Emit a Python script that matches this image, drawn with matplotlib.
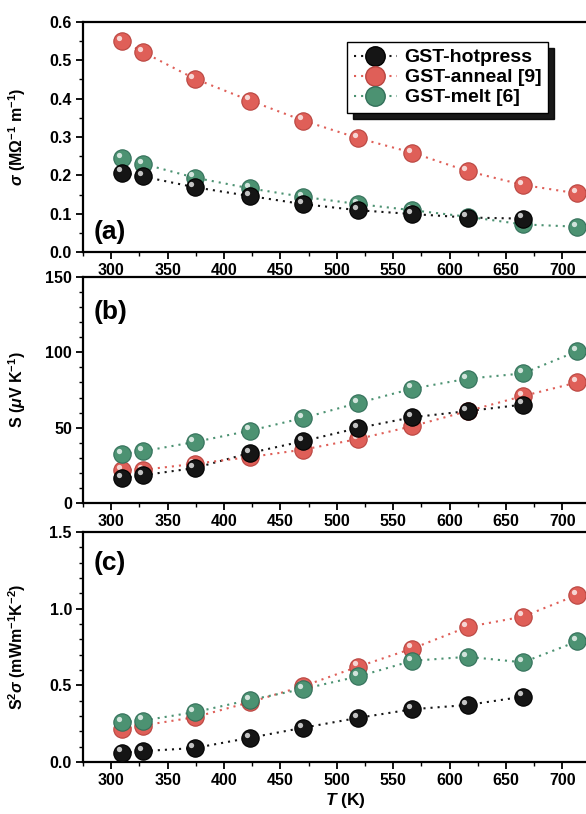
import matplotlib
matplotlib.use("Agg")
import matplotlib.pyplot as plt
from matplotlib.ticker import MultipleLocator
from matplotlib.lines import Line2D
import matplotlib.transforms as mtransforms

plt.rcParams['font.family'] = ['Liberation Sans', 'DejaVu Sans']
plt.rcParams['font.weight'] = 'bold'
plt.rcParams['mathtext.fontset'] = 'custom'
plt.rcParams['mathtext.rm'] = 'Liberation Sans:bold'
plt.rcParams['mathtext.it'] = 'Liberation Sans:italic:bold'
plt.rcParams['mathtext.bf'] = 'Liberation Sans:bold'

# ---- data ----
T_all = [310, 328, 374, 423, 470, 519, 567, 616, 665, 713]
T_hot = [310, 328, 374, 423, 470, 519, 567, 616, 665]

sigma_hot = [0.207, 0.197, 0.169, 0.146, 0.125, 0.109, 0.099, 0.090, 0.087]
sigma_anneal = [0.550, 0.522, 0.452, 0.395, 0.343, 0.297, 0.259, 0.211, 0.175, 0.153]
sigma_melt = [0.244, 0.230, 0.194, 0.166, 0.144, 0.125, 0.109, 0.092, 0.072, 0.066]

S_hot = [16.6, 18.4, 23.2, 33.2, 41.0, 49.8, 56.9, 61.0, 65.3]
S_anneal = [22.0, 22.0, 26.0, 30.5, 35.4, 42.5, 51.0, 61.0, 71.0, 80.0]
S_melt = [32.7, 34.3, 40.5, 48.0, 56.4, 66.4, 75.9, 82.5, 86.0, 100.7]

PF_hot = [0.061, 0.071, 0.091, 0.158, 0.223, 0.288, 0.344, 0.372, 0.426]
PF_anneal = [0.216, 0.238, 0.292, 0.390, 0.494, 0.622, 0.740, 0.881, 0.948, 1.089]
PF_melt = [0.260, 0.270, 0.325, 0.405, 0.476, 0.558, 0.660, 0.686, 0.650, 0.786]

labels = ["GST-hotpress", "GST-anneal [9]", "GST-melt [6]"]
colors = ["#151515", "#df5f58", "#4c9272"]
edge = ["#000000", "#b94540", "#33705a"]
dotted = (0, (1, 2.4))

fig = plt.figure(figsize=(5.86, 8.14), dpi=100)
W, H = 586.0, 814.0
left_px = 83
px_per_K = 56.4 / 50.0
xlim = (275, 740)
width = (xlim[1] - xlim[0]) * px_per_K / W

panels = [
    (22, 252, (0, 0.6), 0.1, 0.05, r'$\sigma$ (M$\Omega^{-1}$ m$^{-1}$)', '(a)', 0.087,
     [sigma_hot, sigma_anneal, sigma_melt], lambda v: f"{v:.1f}"),
    (277, 503, (0, 150), 50, 10, r'S ($\mu$V K$^{-1}$)', '(b)', 0.845,
     [S_hot, S_anneal, S_melt], lambda v: f"{v:.0f}"),
    (532, 762, (0, 1.5), 0.5, 0.1, r'S$^2$$\sigma$ (mWm$^{-1}$K$^{-2}$)', '(c)', 0.865,
     [PF_hot, PF_anneal, PF_melt], lambda v: f"{v:.1f}"),
]

axes = []
for top, bot, ylim, maj, mnr, ylab, plab, py, series, fmt in panels:
    ax = fig.add_axes([left_px / W, 1 - bot / H, width, (bot - top) / H])
    axes.append(ax)
    ax.set_xlim(*xlim)
    ax.set_ylim(*ylim)
    for s in ax.spines.values():
        s.set_linewidth(1.6)
    ax.xaxis.set_major_locator(MultipleLocator(50))
    ax.xaxis.set_minor_locator(MultipleLocator(25))
    ax.yaxis.set_major_locator(MultipleLocator(maj))
    ax.yaxis.set_minor_locator(MultipleLocator(mnr))
    ax.tick_params(which='major', direction='out', length=5, width=1.3, labelsize=11.5, pad=3)
    ax.tick_params(which='minor', direction='out', length=3, width=1.0)
    ax.set_yticks(ax.get_yticks())
    ax.set_yticklabels([fmt(v) for v in ax.get_yticks()], fontweight='bold')
    ax.set_ylim(*ylim)
    for lab in ax.get_xticklabels():
        lab.set_fontweight('bold')
    ax.set_ylabel(ylab, fontsize=11.5, fontweight='bold')
    ax.yaxis.set_label_coords(-0.105, 0.5)
    ax.text(0.02, py, plab, transform=ax.transAxes, fontsize=19, fontweight='bold',
            va='center', ha='left')

    xs_list = [T_hot, T_all, T_all]
    hl = mtransforms.offset_copy(ax.transData, fig=fig, x=-2.3, y=2.3, units='points')
    for i, (xs, ys) in enumerate(zip(xs_list, series)):
        ax.plot(xs, ys, linestyle=dotted, color=colors[i], lw=1.5, zorder=2)
    order = [1, 2, 0]
    for i in order:
        xs, ys = xs_list[i], series[i]
        ax.plot(xs, ys, linestyle='none', marker='o', markersize=12.5,
                markerfacecolor=colors[i], markeredgecolor=edge[i], markeredgewidth=0.8,
                zorder=3 + order.index(i), clip_on=False)
        ax.plot(xs, ys, linestyle='none', marker='o', markersize=3.8,
                markerfacecolor='white', markeredgecolor='none', alpha=0.75,
                transform=hl, zorder=3.5 + order.index(i), clip_on=False)

axes[2].set_xlabel(r'$T$ (K)', fontsize=12.5, fontweight='bold', labelpad=2)

handles = [Line2D([0], [0], linestyle=dotted, color=colors[i], lw=1.5, marker='o',
                  markersize=14, markerfacecolor=colors[i], markeredgecolor=edge[i])
           for i in range(3)]
leg = axes[0].legend(handles, labels, loc='upper right', bbox_to_anchor=(0.905, 0.955),
                     prop={'family': 'Liberation Sans', 'weight': 'bold', 'size': 14},
                     frameon=True, fancybox=False, edgecolor='black', framealpha=1,
                     handlelength=2.2, handletextpad=0.4, labelspacing=0.12,
                     borderpad=0.35, shadow={'color': 'black', 'alpha': 0.9, 'ox': 4, 'oy': -4})
leg.get_frame().set_linewidth(1.0)

fig.savefig("out.png", dpi=100)
